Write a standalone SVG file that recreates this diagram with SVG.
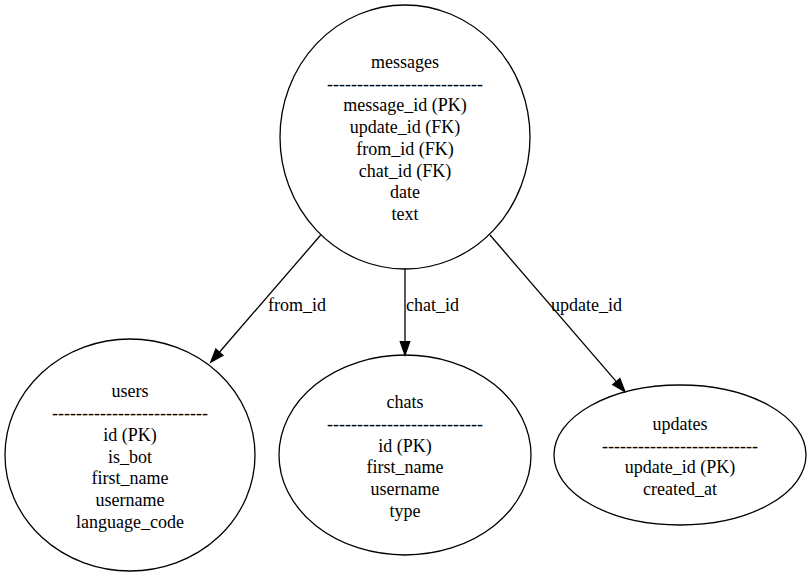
<svg xmlns="http://www.w3.org/2000/svg" width="811" height="578" viewBox="0 0 811 578">
<style>
.shape{fill:none;stroke:#000;stroke-width:1.3}
.edge{fill:none;stroke:#000;stroke-width:1.3}
.head{fill:#000;stroke:#000;stroke-width:1.3}
.c{text-anchor:middle}
</style>
<rect width="811" height="578" fill="#fff"/>
<g font-family="'Liberation Serif', 'Times New Roman', 'DejaVu Serif', serif" font-size="18" fill="#000">
<g id="connectors">
<g id="e-users">
<path class="edge" d="M320.7,235 L219.4,352.2"/>
<polygon class="head" points="210.7,362.3 222.96,355.3 215.84,349.1"/>
<text x="268" y="311">from_id</text>
</g>
<g id="e-chats">
<path class="edge" d="M405,269 L405,341.7"/>
<polygon class="head" points="405,355 400.3,341.7 409.7,341.7"/>
<text x="406" y="311">chat_id</text>
</g>
<g id="e-updates">
<path class="edge" d="M490,235 L616.3,381.6"/>
<polygon class="head" points="625,391.7 612.8,384.7 619.9,378.5"/>
<text x="551" y="311">update_id</text>
</g>
</g>
<g id="messages">
<ellipse class="shape" cx="405" cy="137" rx="125" ry="132"/>
<text class="c" x="405" y="68">messages</text>
<text class="c" x="405" y="89.7">--------------------------</text>
<text class="c" x="405" y="111.4">message_id (PK)</text>
<text class="c" x="405" y="133.1">update_id (FK)</text>
<text class="c" x="405" y="154.8">from_id (FK)</text>
<text class="c" x="405" y="176.5">chat_id (FK)</text>
<text class="c" x="405" y="198.2">date</text>
<text class="c" x="405" y="219.9">text</text>
</g>
<g id="users">
<ellipse class="shape" cx="130" cy="455" rx="125" ry="116"/>
<text class="c" x="130" y="397.4">users</text>
<text class="c" x="130" y="419.1">--------------------------</text>
<text class="c" x="130" y="440.8">id (PK)</text>
<text class="c" x="130" y="462.5">is_bot</text>
<text class="c" x="130" y="484.2">first_name</text>
<text class="c" x="130" y="505.9">username</text>
<text class="c" x="130" y="527.6">language_code</text>
</g>
<g id="chats">
<ellipse class="shape" cx="405" cy="455" rx="126" ry="100"/>
<text class="c" x="405" y="408.25">chats</text>
<text class="c" x="405" y="429.95">--------------------------</text>
<text class="c" x="405" y="451.65">id (PK)</text>
<text class="c" x="405" y="473.35">first_name</text>
<text class="c" x="405" y="495.05">username</text>
<text class="c" x="405" y="516.75">type</text>
</g>
<g id="updates">
<ellipse class="shape" cx="680" cy="455" rx="126" ry="70"/>
<text class="c" x="680" y="429.95">updates</text>
<text class="c" x="680" y="451.65">--------------------------</text>
<text class="c" x="680" y="473.35">update_id (PK)</text>
<text class="c" x="680" y="495.05">created_at</text>
</g>
</g>
</svg>
